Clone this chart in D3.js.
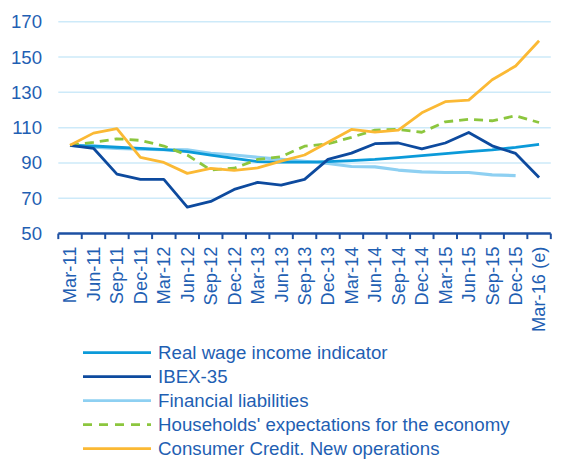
<!DOCTYPE html>
<html>
<head>
<meta charset="utf-8">
<script src="https://cdn.jsdelivr.net/npm/d3@7"></script>
<style>
  html, body { margin: 0; padding: 0; background: #fff; }
  svg { display: block; }
  text { font-family: "Liberation Sans", Arial, sans-serif; }
</style>
</head>
<body>
<svg id="chart" width="574" height="459"></svg>
<script>
const categories = ["Mar-11","Jun-11","Sep-11","Dec-11","Mar-12","Jun-12","Sep-12","Dec-12","Mar-13","Jun-13","Sep-13","Dec-13","Mar-14","Jun-14","Sep-14","Dec-14","Mar-15","Jun-15","Sep-15","Dec-15","Mar-16 (e)"];

const realWage     = [100, 99.6, 98.9, 98.3, 97.5, 96.4, 94.5, 92.6, 90.8, 90.5, 90.5, 90.8, 91.3, 92.0, 93.0, 94.1, 95.3, 96.4, 97.4, 98.8, 100.5];
const ibex         = [100, 98.3, 83.7, 80.7, 80.7, 65.0, 68.2, 75.0, 79.0, 77.5, 80.7, 92.0, 95.6, 100.9, 101.3, 98.0, 101.3, 107.3, 99.7, 95.4, 81.8];
const finLiab      = [100, 99.0, 98.2, 97.8, 97.5, 97.4, 95.5, 94.5, 93.2, 92.0, 90.9, 89.7, 88.0, 87.8, 86.0, 85.0, 84.6, 84.6, 83.3, 82.8, null];
const households   = [100, 101.7, 103.7, 102.8, 99.6, 94.5, 86.0, 87.0, 92.0, 93.5, 99.5, 100.8, 104.5, 108.6, 109.0, 107.4, 113.3, 114.7, 113.9, 116.7, 112.9];
const consumerCred = [100, 106.9, 109.4, 93.2, 90.3, 84.1, 86.9, 85.8, 87.2, 91.0, 94.5, 101.7, 109.0, 107.5, 108.6, 118.4, 124.7, 125.6, 137.1, 144.9, 159.2];

const yTicks = [50, 70, 90, 110, 130, 150, 170];

const seriesNames = ["Real wage income indicator", "IBEX-35", "Financial liabilities", "Households' expectations for the economy", "Consumer Credit. New operations"];
const seriesColors = ["#0b9ad9", "#0d4a9e", "#8ed0f2", "#8cc63e", "#fbb934"];
const seriesData = [realWage, ibex, finLiab, households, consumerCred];

const textColor = "#1f5fb3";
const svg = d3.select("#chart");

const x = d3.scaleBand().domain(categories).range([58.3, 550.8]);
const y = d3.scaleLinear().domain([50, 170]).range([233.6, 21.7]);

// gridlines
svg.append("g").selectAll("line").data(yTicks.filter(d => d > 50)).join("line")
  .attr("x1", 58.3).attr("x2", 550.8)
  .attr("y1", d => y(d)).attr("y2", d => y(d))
  .attr("stroke", "#cdeaf9").attr("stroke-width", 1.5);

// y labels
svg.append("g").selectAll("text").data(yTicks).join("text")
  .attr("x", 42).attr("y", d => y(d)).attr("dy", "0.35em")
  .attr("text-anchor", "end").attr("fill", textColor)
  .attr("font-size", 18.6).text(d => d);

// x axis
const xAxis = d3.axisBottom(x).tickSize(5).tickFormat("");
const gx = svg.append("g").attr("transform", `translate(0,${y(50)})`).call(xAxis);
gx.select(".domain").attr("stroke", "#1d50a3").attr("stroke-width", 2.5)
  .attr("d", `M58.3,0V0H550.8V0`);
gx.selectAll(".tick").remove();
const bounds = d3.range(categories.length + 1).map(i => 58.3 + i * x.step());
gx.selectAll("line.tk").data(bounds).join("line").attr("class", "tk")
  .attr("x1", d => d).attr("x2", d => d).attr("y1", 0).attr("y2", 5.5)
  .attr("stroke", "#1d50a3").attr("stroke-width", 2);

// x labels
svg.append("g").selectAll("text").data(categories).join("text")
  .attr("transform", d => `translate(${x(d) + x.bandwidth() / 2},${y(50) + 13}) rotate(-90)`)
  .attr("dy", "0.35em").attr("text-anchor", "end").attr("fill", textColor)
  .attr("font-size", 18.3).text(d => d);

// lines
const line = d3.line()
  .defined(d => d.v !== null)
  .x(d => x(d.c) + x.bandwidth() / 2)
  .y(d => y(d.v));

const drawOrder = [2, 0, 3, 1, 4];
drawOrder.forEach(i => {
  const pts = categories.map((c, k) => ({ c, v: seriesData[i][k] }));
  svg.append("path").datum(pts)
    .attr("fill", "none")
    .attr("stroke", seriesColors[i])
    .attr("stroke-width", i === 2 ? 3.2 : 2.8)
    .attr("stroke-linejoin", "round")
    .attr("stroke-dasharray", i === 3 ? "9,6" : null)
    .attr("d", line);
});

// legend
const leg = svg.append("g");
seriesNames.forEach((name, i) => {
  const yy = 352.7 + i * 24;
  leg.append("line").attr("x1", 83).attr("x2", 151).attr("y1", yy).attr("y2", yy)
    .attr("stroke", seriesColors[i]).attr("stroke-width", 2.8)
    .attr("stroke-dasharray", i === 3 ? "9,7" : null);
  leg.append("text").attr("x", 158).attr("y", yy).attr("dy", "0.35em")
    .attr("fill", textColor).attr("font-size", 18.7).text(name);
});
</script>
</body>
</html>
